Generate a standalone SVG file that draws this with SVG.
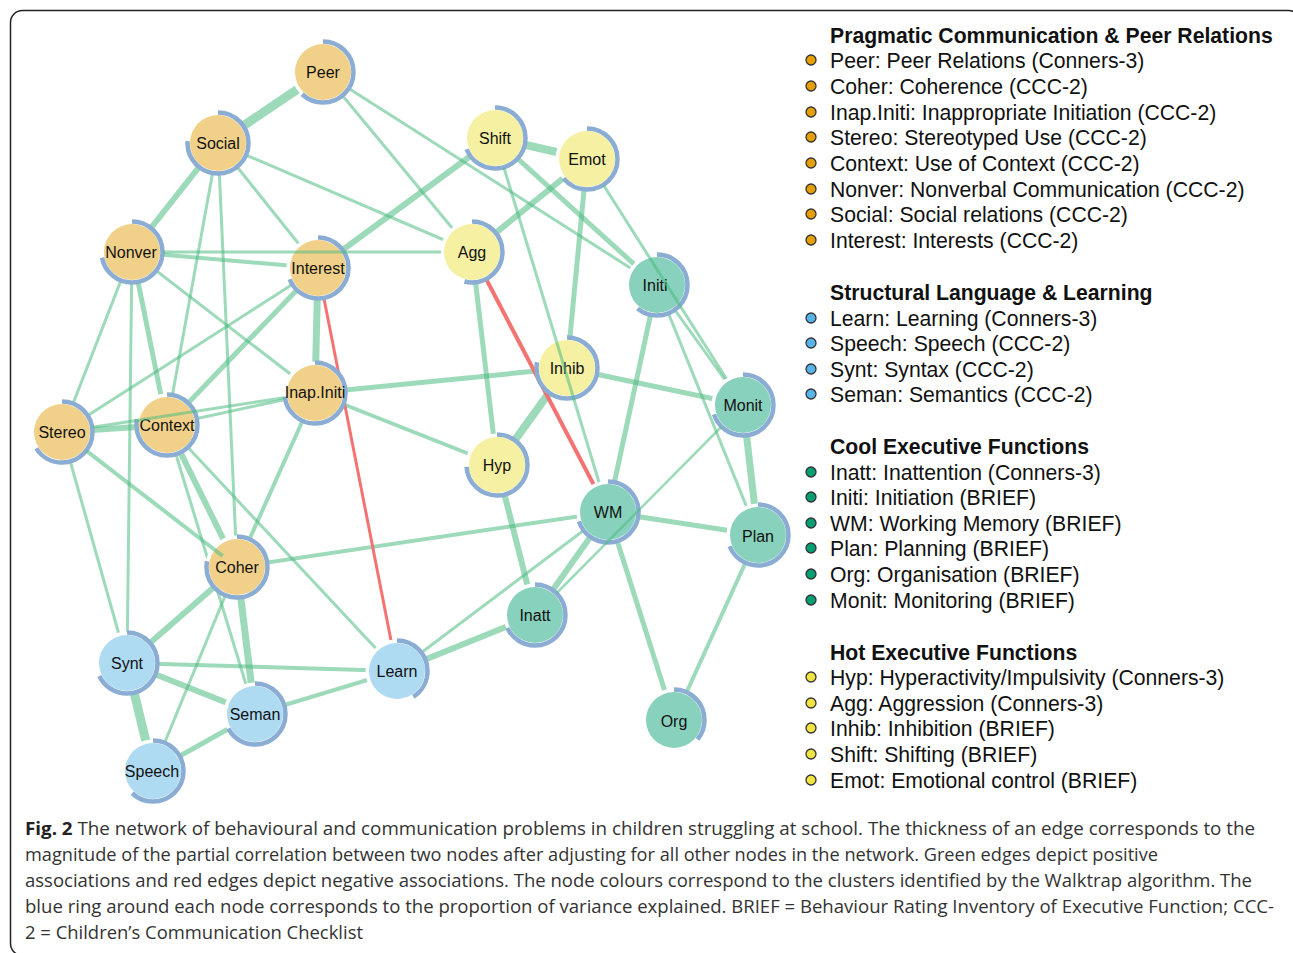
<svg xmlns="http://www.w3.org/2000/svg" width="1293" height="953" viewBox="0 0 1293 953">
<defs>
<style>
.e{stroke:#4DBB82;stroke-opacity:0.55;stroke-linecap:butt;fill:none}
.neg{stroke:#F26B6B;stroke-opacity:0.95;fill:none}
.halo{fill:#fff;stroke:#fff;stroke-width:5}
.ring{fill:none;stroke:#8BADD3;stroke-width:4.5}
.o{fill:#F1D189}
.y{fill:#F5F0A2}
.b{fill:#AEDBF2}
.t{fill:#88D1BC}
.nl{font-family:"Liberation Sans",Arial,sans-serif;font-size:16px;fill:#111;text-anchor:middle;dominant-baseline:central}
.lh{font-family:"Liberation Sans",Arial,sans-serif;font-size:21.2px;font-weight:bold;fill:#111}
.li{font-family:"Liberation Sans",Arial,sans-serif;font-size:21.2px;fill:#111}
.bul{stroke:#333;stroke-width:1.3}
.cap{font-family:"Open Sans","Noto Sans",sans-serif;font-size:18px;fill:#333}
</style>
</defs>
<rect x="10.5" y="10.5" width="1290" height="945" rx="12" fill="#fff" stroke="#222" stroke-width="1.5"/>

<g id="connectors">
<line class="e" x1="323" y1="72" x2="218" y2="143" stroke-width="9"/>
<line class="e" x1="218" y1="143" x2="132" y2="252" stroke-width="6"/>
<line class="e" x1="218" y1="143" x2="318" y2="268" stroke-width="3"/>
<line class="e" x1="218" y1="143" x2="472" y2="252" stroke-width="3"/>
<line class="e" x1="218" y1="143" x2="167" y2="425" stroke-width="3"/>
<line class="e" x1="218" y1="143" x2="237" y2="567" stroke-width="3"/>
<line class="e" x1="323" y1="72" x2="472" y2="252" stroke-width="3"/>
<line class="e" x1="323" y1="72" x2="657" y2="285" stroke-width="3"/>
<line class="e" x1="132" y1="252" x2="318" y2="268" stroke-width="4"/>
<line class="e" x1="132" y1="252" x2="62" y2="432" stroke-width="3"/>
<line class="e" x1="132" y1="252" x2="127" y2="663" stroke-width="3"/>
<line class="e" x1="132" y1="252" x2="167" y2="425" stroke-width="5"/>
<line class="e" x1="132" y1="252" x2="315" y2="393" stroke-width="3"/>
<line class="e" x1="318" y1="268" x2="495" y2="138" stroke-width="6"/>
<line class="e" x1="318" y1="268" x2="315" y2="393" stroke-width="7"/>
<line class="e" x1="318" y1="268" x2="62" y2="432" stroke-width="3"/>
<line class="e" x1="318" y1="268" x2="167" y2="425" stroke-width="5"/>
<line class="e" x1="62" y1="432" x2="167" y2="425" stroke-width="6"/>
<line class="e" x1="62" y1="432" x2="127" y2="663" stroke-width="3"/>
<line class="e" x1="167" y1="425" x2="315" y2="393" stroke-width="3"/>
<line class="e" x1="167" y1="425" x2="397" y2="671" stroke-width="3"/>
<line class="e" x1="167" y1="425" x2="237" y2="567" stroke-width="6"/>
<line class="e" x1="167" y1="425" x2="255" y2="714" stroke-width="3"/>
<line class="e" x1="315" y1="393" x2="567" y2="368" stroke-width="5"/>
<line class="e" x1="315" y1="393" x2="497" y2="465" stroke-width="4"/>
<line class="e" x1="315" y1="393" x2="237" y2="567" stroke-width="4"/>
<line class="e" x1="237" y1="567" x2="608" y2="512" stroke-width="4"/>
<line class="e" x1="237" y1="567" x2="127" y2="663" stroke-width="6"/>
<line class="e" x1="237" y1="567" x2="255" y2="714" stroke-width="7"/>
<line class="e" x1="237" y1="567" x2="153" y2="771" stroke-width="3"/>
<line class="e" x1="127" y1="663" x2="397" y2="671" stroke-width="4"/>
<line class="e" x1="127" y1="663" x2="255" y2="714" stroke-width="6"/>
<line class="e" x1="127" y1="663" x2="153" y2="771" stroke-width="9"/>
<line class="e" x1="255" y1="714" x2="397" y2="671" stroke-width="4"/>
<line class="e" x1="255" y1="714" x2="153" y2="771" stroke-width="5"/>
<line class="e" x1="397" y1="671" x2="535" y2="615" stroke-width="6"/>
<line class="e" x1="397" y1="671" x2="608" y2="512" stroke-width="3"/>
<line class="e" x1="535" y1="615" x2="497" y2="465" stroke-width="6"/>
<line class="e" x1="535" y1="615" x2="608" y2="512" stroke-width="6"/>
<line class="e" x1="497" y1="465" x2="472" y2="252" stroke-width="5"/>
<line class="e" x1="497" y1="465" x2="567" y2="368" stroke-width="8"/>
<line class="e" x1="472" y1="252" x2="587" y2="159" stroke-width="6"/>
<line class="e" x1="495" y1="138" x2="587" y2="159" stroke-width="8"/>
<line class="e" x1="495" y1="138" x2="657" y2="285" stroke-width="5"/>
<line class="e" x1="587" y1="159" x2="567" y2="368" stroke-width="5"/>
<line class="e" x1="657" y1="285" x2="608" y2="512" stroke-width="5"/>
<line class="e" x1="657" y1="285" x2="743" y2="405" stroke-width="3"/>
<line class="e" x1="657" y1="285" x2="758" y2="535" stroke-width="3"/>
<line class="e" x1="567" y1="368" x2="743" y2="405" stroke-width="5"/>
<line class="e" x1="743" y1="405" x2="758" y2="535" stroke-width="7"/>
<line class="e" x1="608" y1="512" x2="758" y2="535" stroke-width="5"/>
<line class="e" x1="608" y1="512" x2="674" y2="720" stroke-width="5"/>
<line class="e" x1="758" y1="535" x2="674" y2="720" stroke-width="4"/>
<line class="neg" x1="318" y1="268" x2="397" y2="671" stroke-width="3"/>
<line class="neg" x1="472" y1="252" x2="608" y2="512" stroke-width="4"/>
</g>

<g id="node-Peer"><circle class="halo" cx="323" cy="72" r="29"/><circle class="o" cx="323" cy="72" r="28"/><circle class="ring" cx="323" cy="72" r="30.5" pathLength="100" stroke-dasharray="62 100" transform="rotate(-90 323 72)"/><text class="nl" x="323" y="72">Peer</text></g>
<g id="node-Social"><circle class="halo" cx="218" cy="143" r="29"/><circle class="o" cx="218" cy="143" r="28"/><circle class="ring" cx="218" cy="143" r="30.5" pathLength="100" stroke-dasharray="76 100" transform="rotate(-90 218 143)"/><text class="nl" x="218" y="143">Social</text></g>
<g id="node-Nonver"><circle class="halo" cx="132" cy="252" r="29"/><circle class="o" cx="132" cy="252" r="28"/><circle class="ring" cx="132" cy="252" r="30.5" pathLength="100" stroke-dasharray="72 100" transform="rotate(-90 132 252)"/><text class="nl" x="131" y="252">Nonver</text></g>
<g id="node-Interest"><circle class="halo" cx="318" cy="268" r="29"/><circle class="o" cx="318" cy="268" r="28"/><circle class="ring" cx="318" cy="268" r="30.5" pathLength="100" stroke-dasharray="69 100" transform="rotate(-90 318 268)"/><text class="nl" x="318" y="268">Interest</text></g>
<g id="node-Shift"><circle class="halo" cx="495" cy="138" r="29"/><circle class="y" cx="495" cy="138" r="28"/><circle class="ring" cx="495" cy="138" r="30.5" pathLength="100" stroke-dasharray="69 100" transform="rotate(-90 495 138)"/><text class="nl" x="495" y="138">Shift</text></g>
<g id="node-Emot"><circle class="halo" cx="587" cy="159" r="29"/><circle class="y" cx="587" cy="159" r="28"/><circle class="ring" cx="587" cy="159" r="30.5" pathLength="100" stroke-dasharray="64 100" transform="rotate(-90 587 159)"/><text class="nl" x="587" y="159">Emot</text></g>
<g id="node-Agg"><circle class="halo" cx="472" cy="252" r="29"/><circle class="y" cx="472" cy="252" r="28"/><circle class="ring" cx="472" cy="252" r="30.5" pathLength="100" stroke-dasharray="54 100" transform="rotate(-90 472 252)"/><text class="nl" x="472" y="252">Agg</text></g>
<g id="node-Initi"><circle class="halo" cx="657" cy="285" r="29"/><circle class="t" cx="657" cy="285" r="28"/><circle class="ring" cx="657" cy="285" r="30.5" pathLength="100" stroke-dasharray="61 100" transform="rotate(-90 657 285)"/><text class="nl" x="655" y="285">Initi</text></g>
<g id="node-InapIniti"><circle class="halo" cx="315" cy="393" r="29"/><circle class="o" cx="315" cy="393" r="28"/><circle class="ring" cx="315" cy="393" r="30.5" pathLength="100" stroke-dasharray="73 100" transform="rotate(-90 315 393)"/><text class="nl" x="315" y="392">Inap.Initi</text></g>
<g id="node-Stereo"><circle class="halo" cx="62" cy="432" r="29"/><circle class="o" cx="62" cy="432" r="28"/><circle class="ring" cx="62" cy="432" r="30.5" pathLength="100" stroke-dasharray="66 100" transform="rotate(-90 62 432)"/><text class="nl" x="62" y="432">Stereo</text></g>
<g id="node-Context"><circle class="halo" cx="167" cy="425" r="29"/><circle class="o" cx="167" cy="425" r="28"/><circle class="ring" cx="167" cy="425" r="30.5" pathLength="100" stroke-dasharray="78 100" transform="rotate(-90 167 425)"/><text class="nl" x="167" y="425">Context</text></g>
<g id="node-Coher"><circle class="halo" cx="237" cy="567" r="29"/><circle class="o" cx="237" cy="567" r="28"/><circle class="ring" cx="237" cy="567" r="30.5" pathLength="100" stroke-dasharray="78 100" transform="rotate(-90 237 567)"/><text class="nl" x="237" y="567">Coher</text></g>
<g id="node-Inhib"><circle class="halo" cx="567" cy="368" r="29"/><circle class="y" cx="567" cy="368" r="28"/><circle class="ring" cx="567" cy="368" r="30.5" pathLength="100" stroke-dasharray="78 100" transform="rotate(-90 567 368)"/><text class="nl" x="567" y="368">Inhib</text></g>
<g id="node-Monit"><circle class="halo" cx="743" cy="405" r="29"/><circle class="t" cx="743" cy="405" r="28"/><circle class="ring" cx="743" cy="405" r="30.5" pathLength="100" stroke-dasharray="70 100" transform="rotate(-90 743 405)"/><text class="nl" x="743" y="405">Monit</text></g>
<g id="node-Hyp"><circle class="halo" cx="497" cy="465" r="29"/><circle class="y" cx="497" cy="465" r="28"/><circle class="ring" cx="497" cy="465" r="30.5" pathLength="100" stroke-dasharray="74 100" transform="rotate(-90 497 465)"/><text class="nl" x="497" y="465">Hyp</text></g>
<g id="node-WM"><circle class="halo" cx="608" cy="512" r="29"/><circle class="t" cx="608" cy="512" r="28"/><circle class="ring" cx="608" cy="512" r="30.5" pathLength="100" stroke-dasharray="70 100" transform="rotate(-90 608 512)"/><text class="nl" x="608" y="512">WM</text></g>
<g id="node-Plan"><circle class="halo" cx="758" cy="535" r="29"/><circle class="t" cx="758" cy="535" r="28"/><circle class="ring" cx="758" cy="535" r="30.5" pathLength="100" stroke-dasharray="69 100" transform="rotate(-90 758 535)"/><text class="nl" x="758" y="536">Plan</text></g>
<g id="node-Inatt"><circle class="halo" cx="535" cy="615" r="29"/><circle class="t" cx="535" cy="615" r="28"/><circle class="ring" cx="535" cy="615" r="30.5" pathLength="100" stroke-dasharray="68 100" transform="rotate(-90 535 615)"/><text class="nl" x="535" y="615">Inatt</text></g>
<g id="node-Learn"><circle class="halo" cx="397" cy="671" r="29"/><circle class="b" cx="397" cy="671" r="28"/><circle class="ring" cx="397" cy="671" r="30.5" pathLength="100" stroke-dasharray="41 100" transform="rotate(-90 397 671)"/><text class="nl" x="397" y="671">Learn</text></g>
<g id="node-Org"><circle class="halo" cx="674" cy="720" r="29"/><circle class="t" cx="674" cy="720" r="28"/><circle class="ring" cx="674" cy="720" r="30.5" pathLength="100" stroke-dasharray="36 100" transform="rotate(-90 674 720)"/><text class="nl" x="674" y="721">Org</text></g>
<g id="node-Synt"><circle class="halo" cx="127" cy="663" r="29"/><circle class="b" cx="127" cy="663" r="28"/><circle class="ring" cx="127" cy="663" r="30.5" pathLength="100" stroke-dasharray="68 100" transform="rotate(-90 127 663)"/><text class="nl" x="127" y="663">Synt</text></g>
<g id="node-Seman"><circle class="halo" cx="255" cy="714" r="29"/><circle class="b" cx="255" cy="714" r="28"/><circle class="ring" cx="255" cy="714" r="30.5" pathLength="100" stroke-dasharray="67 100" transform="rotate(-90 255 714)"/><text class="nl" x="255" y="714">Seman</text></g>
<g id="node-Speech"><circle class="halo" cx="153" cy="771" r="29"/><circle class="b" cx="153" cy="771" r="28"/><circle class="ring" cx="153" cy="771" r="30.5" pathLength="100" stroke-dasharray="62 100" transform="rotate(-90 153 771)"/><text class="nl" x="152" y="771">Speech</text></g>

<g id="connectors-over">
<line class="e" x1="163" y1="252" x2="441" y2="252" stroke-width="3"/>
<line class="e" x1="92.6" y1="427.3" x2="284.4" y2="397.7" stroke-width="3"/>
<line class="e" x1="86.5" y1="450.9" x2="222.7" y2="556" stroke-width="4"/>
<line class="e" x1="504" y1="167.7" x2="599" y2="482.3" stroke-width="3"/>
<line class="e" x1="603.6" y1="185.2" x2="726.4" y2="378.8" stroke-width="3"/>
<line class="e" x1="721.2" y1="427" x2="556.8" y2="593" stroke-width="2.5"/>
</g>

<g id="legend">
<text class="lh" x="830" y="43">Pragmatic Communication &amp; Peer Relations</text>
<g fill="#E69F00" class="bul">
<circle cx="811" cy="60" r="5"/><circle cx="811" cy="86" r="5"/><circle cx="811" cy="112" r="5"/><circle cx="811" cy="137" r="5"/><circle cx="811" cy="163" r="5"/><circle cx="811" cy="189" r="5"/><circle cx="811" cy="214" r="5"/><circle cx="811" cy="240" r="5"/>
</g>
<text class="li" x="830" y="68">Peer: Peer Relations (Conners-3)</text>
<text class="li" x="830" y="94">Coher: Coherence (CCC-2)</text>
<text class="li" x="830" y="120">Inap.Initi: Inappropriate Initiation (CCC-2)</text>
<text class="li" x="830" y="145">Stereo: Stereotyped Use (CCC-2)</text>
<text class="li" x="830" y="171">Context: Use of Context (CCC-2)</text>
<text class="li" x="830" y="197">Nonver: Nonverbal Communication (CCC-2)</text>
<text class="li" x="830" y="222">Social: Social relations (CCC-2)</text>
<text class="li" x="830" y="248">Interest: Interests (CCC-2)</text>

<text class="lh" x="830" y="300">Structural Language &amp; Learning</text>
<g fill="#56B4E9" class="bul">
<circle cx="811" cy="318" r="5"/><circle cx="811" cy="343" r="5"/><circle cx="811" cy="369" r="5"/><circle cx="811" cy="394" r="5"/>
</g>
<text class="li" x="830" y="326">Learn: Learning (Conners-3)</text>
<text class="li" x="830" y="351">Speech: Speech (CCC-2)</text>
<text class="li" x="830" y="377">Synt: Syntax (CCC-2)</text>
<text class="li" x="830" y="402">Seman: Semantics (CCC-2)</text>

<text class="lh" x="830" y="454">Cool Executive Functions</text>
<g fill="#009E73" class="bul">
<circle cx="811" cy="472" r="5"/><circle cx="811" cy="497" r="5"/><circle cx="811" cy="523" r="5"/><circle cx="811" cy="548" r="5"/><circle cx="811" cy="574" r="5"/><circle cx="811" cy="600" r="5"/>
</g>
<text class="li" x="830" y="480">Inatt: Inattention (Conners-3)</text>
<text class="li" x="830" y="505">Initi: Initiation (BRIEF)</text>
<text class="li" x="830" y="531">WM: Working Memory (BRIEF)</text>
<text class="li" x="830" y="556">Plan: Planning (BRIEF)</text>
<text class="li" x="830" y="582">Org: Organisation (BRIEF)</text>
<text class="li" x="830" y="608">Monit: Monitoring (BRIEF)</text>

<text class="lh" x="830" y="660">Hot Executive Functions</text>
<g fill="#F0E442" class="bul">
<circle cx="811" cy="677" r="5"/><circle cx="811" cy="703" r="5"/><circle cx="811" cy="728" r="5"/><circle cx="811" cy="754" r="5"/><circle cx="811" cy="780" r="5"/>
</g>
<text class="li" x="830" y="685">Hyp: Hyperactivity/Impulsivity (Conners-3)</text>
<text class="li" x="830" y="711">Agg: Aggression (Conners-3)</text>
<text class="li" x="830" y="736">Inhib: Inhibition (BRIEF)</text>
<text class="li" x="830" y="762">Shift: Shifting (BRIEF)</text>
<text class="li" x="830" y="788">Emot: Emotional control (BRIEF)</text>
</g>

<g id="caption">
<text class="cap" x="25" y="835" textLength="1230" lengthAdjust="spacingAndGlyphs"><tspan font-weight="bold" fill="#222">Fig. 2</tspan> The network of behavioural and communication problems in children struggling at school. The thickness of an edge corresponds to the</text>
<text class="cap" x="25" y="861" textLength="1133" lengthAdjust="spacingAndGlyphs">magnitude of the partial correlation between two nodes after adjusting for all other nodes in the network. Green edges depict positive</text>
<text class="cap" x="25" y="887" textLength="1227" lengthAdjust="spacingAndGlyphs">associations and red edges depict negative associations. The node colours correspond to the clusters identified by the Walktrap algorithm. The</text>
<text class="cap" x="25" y="913" textLength="1249" lengthAdjust="spacingAndGlyphs">blue ring around each node corresponds to the proportion of variance explained. BRIEF = Behaviour Rating Inventory of Executive Function; CCC-</text>
<text class="cap" x="25" y="939" textLength="338" lengthAdjust="spacingAndGlyphs">2 = Children’s Communication Checklist</text>
</g>
</svg>
